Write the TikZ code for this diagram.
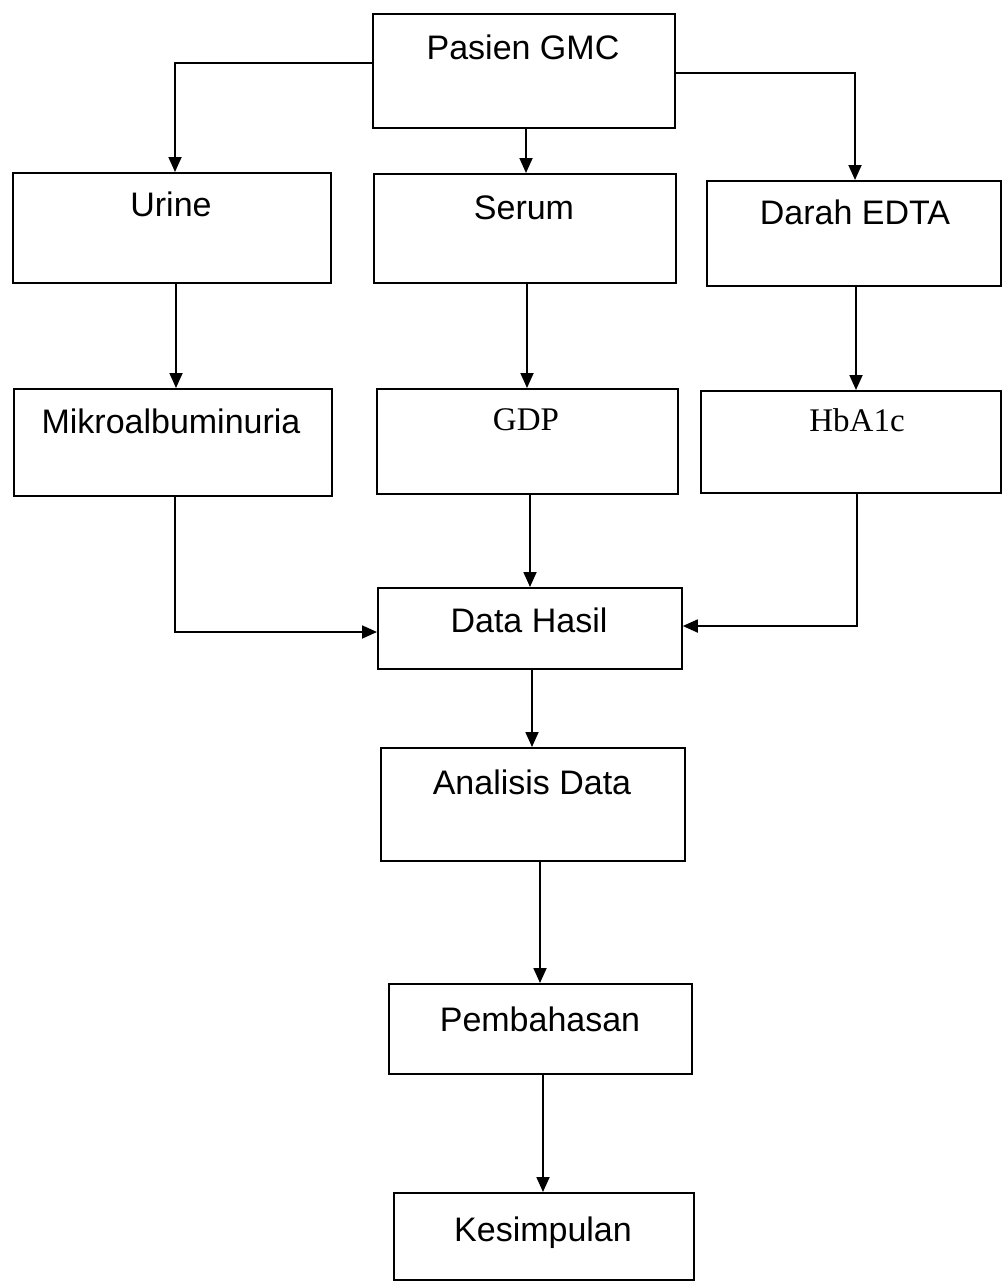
\documentclass[tikz,border=0pt]{standalone}
\usepackage{fontspec}
\setmainfont{Liberation Sans}
\newfontfamily\serifface{Liberation Serif}
\usetikzlibrary{arrows.meta}
\begin{document}
\begin{tikzpicture}[x=1pt,y=-1pt,
  box/.style={draw, line width=1.8pt, anchor=north west, inner sep=0pt},
  lbl/.style={font=\fontsize{34}{40}\selectfont, inner sep=0pt, text height=25pt, text depth=7pt},
  slbl/.style={font=\serifface\fontsize{33}{40}\selectfont, inner sep=0pt, text height=24pt, text depth=7pt},
  arr/.style={line width=1.8pt, -{Triangle[length=15pt,width=13pt]}}]
\useasboundingbox[fill=white] (0,0) rectangle (1003,1282);
% boxes
\node[box, minimum width=302pt, minimum height=114pt] (pasien) at (372,13) {};
\node[box, minimum width=318pt, minimum height=110pt] (urine) at (12,172) {};
\node[box, minimum width=302pt, minimum height=109pt] (serum) at (373,173) {};
\node[box, minimum width=294pt, minimum height=105pt] (darah) at (706,180) {};
\node[box, minimum width=318pt, minimum height=107pt] (mikro) at (13,388) {};
\node[box, minimum width=301pt, minimum height=105pt] (gdp) at (376,388) {};
\node[box, minimum width=300pt, minimum height=102pt] (hba) at (700,390) {};
\node[box, minimum width=304pt, minimum height=81pt] (hasil) at (377,587) {};
\node[box, minimum width=304pt, minimum height=113pt] (analisis) at (380,747) {};
\node[box, minimum width=303pt, minimum height=90pt] (bahas) at (388,983) {};
\node[box, minimum width=300pt, minimum height=87pt] (simpul) at (393,1192) {};
% labels
\node[lbl] (tpasien) at (523,50) {Pasien GMC};
\node[lbl] (turine) at (171,207) {Urine};
\node[lbl] (tserum) at (524,210) {Serum};
\node[lbl] (tdarah) at (855,215) {Darah EDTA};
\node[lbl] (tmikro) at (171,424) {Mikroalbuminuria};
\node[slbl] (tgdp) at (526,422) {GDP};
\node[slbl] (thba) at (857,423) {HbA1c};
\node[lbl] (thasil) at (529,623) {Data Hasil};
\node[lbl] (tanalisis) at (532,785) {Analisis Data};
\node[lbl] (tbahas) at (540,1022) {Pembahasan};
\node[lbl] (tsimpul) at (543,1232) {Kesimpulan};
% connectors
\draw[arr] (pasien.west |- 0,63) -| (urine.north -| 175,0);
\draw[arr] (pasien.south -| 526,0) -- (serum.north -| 526,0);
\draw[arr] (pasien.east |- 0,73) -| (darah.north -| 855,0);
\draw[arr] (urine.south -| 176,0) -- (mikro.north -| 176,0);
\draw[arr] (serum.south -| 527,0) -- (gdp.north -| 527,0);
\draw[arr] (darah.south -| 856,0) -- (hba.north -| 856,0);
\draw[arr] (mikro.south -| 175,0) |- (hasil.west |- 0,632);
\draw[arr] (gdp.south -| 530,0) -- (hasil.north -| 530,0);
\draw[arr] (hba.south -| 857,0) |- (hasil.east |- 0,626);
\draw[arr] (hasil.south -| 532,0) -- (analisis.north -| 532,0);
\draw[arr] (analisis.south -| 540,0) -- (bahas.north -| 540,0);
\draw[arr] (bahas.south -| 543,0) -- (simpul.north -| 543,0);
\end{tikzpicture}
\end{document}
